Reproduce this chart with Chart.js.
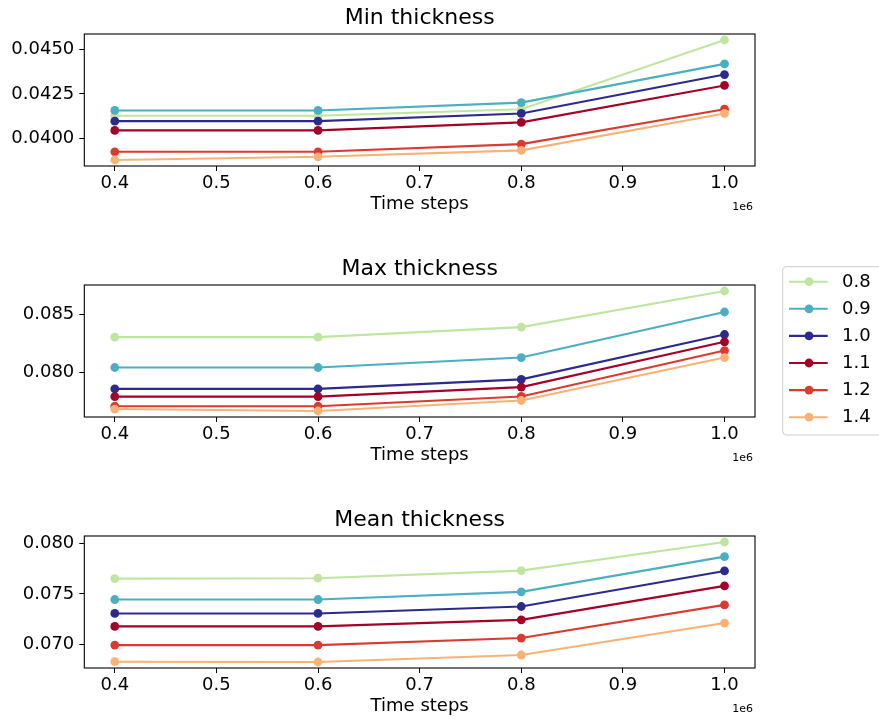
<!DOCTYPE html>
<html>
<head>
<meta charset="utf-8">
<script src="https://cdn.jsdelivr.net/npm/chart.js@4.4.1/dist/chart.umd.min.js"></script>
<style>
  html, body { margin: 0; padding: 0; background: #fff; }
  #wrap { position: relative; width: 879px; height: 719px; overflow: hidden; background: #fff; }
  #wrap canvas { position: absolute; left: 0; }
</style>
</head>
<body>
<div id="wrap">
  <canvas id="cMin" width="879" height="240" style="top:0px"></canvas>
  <canvas id="cMax" width="879" height="240" style="top:251px"></canvas>
  <canvas id="cMean" width="879" height="240" style="top:502px"></canvas>
</div>
<script>
// Simulation time steps and the six parameter values compared
const timeSteps = [400000, 600000, 800000, 1000000];
const seriesLabels = ['0.8', '0.9', '1.0', '1.1', '1.2', '1.4'];
const seriesColors = ['#bfe5a0', '#4aafc0', '#2c2a8c', '#a50026', '#d93b30', '#f8b276'];

// Minimum thickness per series
const min08 = [0.04127, 0.04127, 0.04164, 0.04552];
const min09 = [0.04157, 0.04157, 0.04201, 0.04418];
const min10 = [0.04097, 0.04097, 0.04140, 0.04358];
const min11 = [0.04045, 0.04045, 0.04090, 0.04297];
const min12 = [0.03925, 0.03925, 0.03968, 0.04164];
const min14 = [0.03879, 0.03897, 0.03933, 0.04140];

// Maximum thickness per series
const max08 = [0.08305, 0.08305, 0.08392, 0.08705];
const max09 = [0.08042, 0.08042, 0.08128, 0.08523];
const max10 = [0.07857, 0.07857, 0.07939, 0.08328];
const max11 = [0.07790, 0.07790, 0.07872, 0.08265];
const max12 = [0.07706, 0.07706, 0.07791, 0.08189];
const max14 = [0.07682, 0.07665, 0.07756, 0.08128];

// Mean thickness per series
const mean08 = [0.07651, 0.07655, 0.07730, 0.08013];
const mean09 = [0.07444, 0.07444, 0.07520, 0.07868];
const mean10 = [0.07306, 0.07306, 0.07375, 0.07727];
const mean11 = [0.07178, 0.07178, 0.07243, 0.07579];
const mean12 = [0.06993, 0.06993, 0.07063, 0.07391];
const mean14 = [0.06829, 0.06826, 0.06895, 0.07211];

// Tick labels
const xTickLabels = ['0.4', '0.5', '0.6', '0.7', '0.8', '0.9', '1.0'];
const minTickLabels = ['0.0400', '0.0425', '0.0450'];
const maxTickLabels = ['0.080', '0.085'];
const meanTickLabels = ['0.070', '0.075', '0.080'];

const FONT = 'DejaVu Sans';
Chart.defaults.font.family = FONT;
Chart.defaults.color = '#000';

// matplotlib-style frame around the plotting area
const framePlugin = {
  id: 'frame',
  afterDatasetsDraw(chart) {
    const a = chart.chartArea, ctx = chart.ctx;
    ctx.save();
    ctx.strokeStyle = '#000';
    ctx.lineWidth = 1.1;
    ctx.strokeRect(a.left, a.top, a.right - a.left, a.bottom - a.top);
    ctx.restore();
  }
};

// x-axis scale factor shown below the right end of the axis
const offsetTextPlugin = {
  id: 'offsetText',
  afterDraw(chart) {
    const a = chart.chartArea, ctx = chart.ctx;
    ctx.save();
    ctx.font = '11px "' + FONT + '"';
    ctx.fillStyle = '#000';
    ctx.textAlign = 'right';
    ctx.textBaseline = 'alphabetic';
    ctx.fillText('1e6', a.right - 2, a.bottom + 44);
    ctx.restore();
  }
};

// Boxed legend to the right of the middle panel
const sideLegendPlugin = {
  id: 'sideLegend',
  afterDraw(chart) {
    const ctx = chart.ctx;
    const bx = 782.7, by = 15.7, bw = 100, bh = 168.3, r = 4;
    ctx.save();
    ctx.beginPath();
    ctx.roundRect(bx, by, bw, bh, r);
    ctx.fillStyle = 'rgba(255,255,255,0.8)';
    ctx.fill();
    ctx.strokeStyle = '#cccccc';
    ctx.lineWidth = 1;
    ctx.stroke();
    ctx.font = '18px "' + FONT + '"';
    ctx.textBaseline = 'middle';
    ctx.textAlign = 'left';
    chart.data.datasets.forEach((ds, i) => {
      const y = 30.7 + i * 27.1;
      ctx.strokeStyle = ds.borderColor;
      ctx.lineWidth = 2.1;
      ctx.beginPath();
      ctx.moveTo(789, y);
      ctx.lineTo(827.7, y);
      ctx.stroke();
      ctx.fillStyle = ds.pointBackgroundColor;
      ctx.beginPath();
      ctx.arc(809, y, 4.4, 0, Math.PI * 2);
      ctx.fill();
      ctx.fillStyle = '#000';
      ctx.fillText(ds.label, 842, y + 0.5);
    });
    ctx.restore();
  }
};

function makeDatasets(seriesList) {
  return seriesList.map((vals, i) => ({
    label: seriesLabels[i],
    data: timeSteps.map((t, j) => ({ x: t, y: vals[j] })),
    borderColor: seriesColors[i],
    backgroundColor: seriesColors[i],
    pointBackgroundColor: seriesColors[i],
    pointBorderWidth: 0,
    pointRadius: 4.4,
    borderWidth: 2.1,
    tension: 0,
    // later series are painted on top of earlier ones
    order: seriesList.length - i
  }));
}

function makeChart(canvasId, title, seriesList, yTickLabels, extraPlugins) {
  const all = seriesList.flat();
  const lo = Math.min(...all), hi = Math.max(...all);
  const pad = (hi - lo) * 0.05;
  const xlo = timeSteps[0], xhi = timeSteps[timeSteps.length - 1];
  const xpad = (xhi - xlo) * 0.05;
  const yTickValues = yTickLabels.map(Number);
  const xTickValues = xTickLabels.map(s => Number(s) * 1e6);

  return new Chart(document.getElementById(canvasId), {
    type: 'line',
    data: { datasets: makeDatasets(seriesList) },
    options: {
      responsive: false,
      animation: false,
      devicePixelRatio: 1,
      layout: { padding: { left: 0, right: 124, top: 0, bottom: 0 } },
      plugins: {
        legend: { display: false },
        tooltip: { enabled: false },
        title: {
          display: true,
          text: title,
          fullSize: false,
          color: '#000',
          font: { family: FONT, size: 22, weight: 'normal', lineHeight: 1.2 },
          padding: { top: 5.2, bottom: 2.4 }
        }
      },
      scales: {
        x: {
          type: 'linear',
          min: xlo - xpad,
          max: xhi + xpad,
          afterBuildTicks: s => { s.ticks = xTickValues.map(v => ({ value: v })); },
          afterFit: s => { s.height = 74; },
          grid: { display: true, drawOnChartArea: false, drawTicks: true, tickLength: 5, color: '#000', lineWidth: 1 },
          border: { display: false },
          ticks: {
            padding: 2,
            maxRotation: 0,
            autoSkip: false,
            font: { family: FONT, size: 18 },
            color: '#000',
            callback: (v, i) => xTickLabels[i]
          },
          title: {
            display: true,
            text: 'Time steps',
            color: '#000',
            font: { family: FONT, size: 18, lineHeight: 1.2 },
            padding: { top: 0, bottom: 24.7 }
          }
        },
        y: {
          type: 'linear',
          min: lo - pad,
          max: hi + pad,
          afterBuildTicks: s => { s.ticks = yTickValues.map(v => ({ value: v })); },
          afterFit: s => { s.width = 84.3; },
          grid: { display: true, drawOnChartArea: false, drawTicks: true, tickLength: 5, color: '#000', lineWidth: 1 },
          border: { display: false },
          ticks: {
            padding: 5,
            autoSkip: false,
            font: { family: FONT, size: 18 },
            color: '#000',
            callback: (v, i) => yTickLabels[i]
          }
        }
      }
    },
    plugins: [framePlugin, offsetTextPlugin].concat(extraPlugins || [])
  });
}

makeChart('cMin', 'Min thickness', [min08, min09, min10, min11, min12, min14], minTickLabels);
makeChart('cMax', 'Max thickness', [max08, max09, max10, max11, max12, max14], maxTickLabels, [sideLegendPlugin]);
makeChart('cMean', 'Mean thickness', [mean08, mean09, mean10, mean11, mean12, mean14], meanTickLabels);
</script>
</body>
</html>
